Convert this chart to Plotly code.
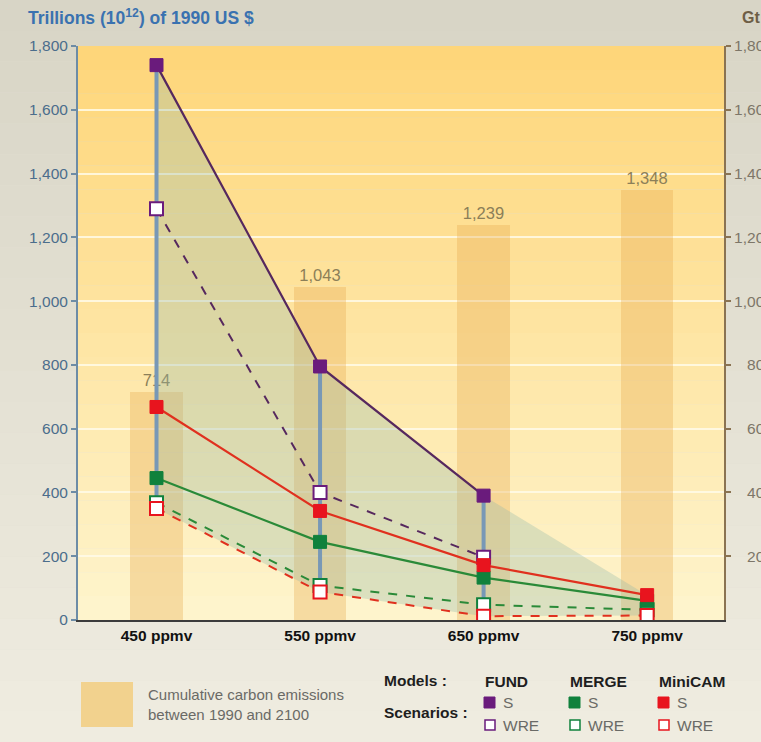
import plotly.graph_objects as go

# ---------------- data ----------------
categories = ["450 ppmv", "550 ppmv", "650 ppmv", "750 ppmv"]
cumulative_emissions = [714, 1043, 1239, 1348]
cumulative_labels = ["714", "1,043", "1,239", "1,348"]

fund_s = [1740, 795, 390, None]
fund_wre = [1290, 400, 197, None]
merge_s = [445, 245, 133, 60]
merge_wre = [368, 108, 48, 32]
minicam_s = [668, 342, 172, 78]
minicam_wre = [350, 88, 12, 14]

y_ticks = [0, 200, 400, 600, 800, 1000, 1200, 1400, 1600, 1800]
y_ticktext = ["0", "200", "400", "600", "800", "1,000", "1,200", "1,400", "1,600", "1,800"]
y2_ticks = [200, 400, 600, 800, 1000, 1200, 1400, 1600, 1800]
y2_ticktext = ["\u2007\u2008200", "\u2007\u2008400", "\u2007\u2008600", "\u2007\u2008800",
               "1,000", "1,200", "1,400", "1,600", "1,800"]

# ---------------- layout geometry ----------------
W, H = 761, 742
ML, MR, MT, MB = 78, 37, 46, 122
PW, PH = W - ML - MR, H - MT - MB


def px(xp):
    return (xp - ML) / PW


def py(yp):
    return (H - MB - yp) / PH


FONT = "Liberation Sans, Arial, sans-serif"
xi = list(range(len(categories)))

all_series = [fund_s, fund_wre, merge_s, merge_wre, minicam_s, minicam_wre]
env_max, env_min = [], []
for i in xi:
    vals = [s[i] for s in all_series if s[i] is not None]
    env_max.append(max(vals))
    env_min.append(min(vals))

fig = go.Figure()

# cumulative emission bars (Gt C, same scale as the left axis)
fig.add_trace(go.Bar(
    x=xi, y=cumulative_emissions, width=0.32,
    marker=dict(color="rgba(232,170,80,0.34)", line=dict(width=0)),
    text=cumulative_labels, textposition="outside", cliponaxis=False,
    textfont=dict(color="#8c7f58", size=16.5, family=FONT),
    hoverinfo="skip", showlegend=False))

# invisible trace that carries the right-hand axis
fig.add_trace(go.Scatter(x=xi, y=cumulative_emissions, yaxis="y2", mode="markers",
                         marker=dict(opacity=0), hoverinfo="skip", showlegend=False))

# shaded envelope between highest and lowest model results
fig.add_trace(go.Scatter(
    x=xi + xi[::-1], y=env_max + env_min[::-1], fill="toself",
    fillcolor="rgba(150,185,170,0.33)", line=dict(width=0),
    mode="lines", hoverinfo="skip", showlegend=False))

# vertical range lines
rx, ry = [], []
for i in xi:
    rx += [i, i, None]
    ry += [env_max[i], env_min[i], None]
fig.add_trace(go.Scatter(x=rx, y=ry, mode="lines",
                         line=dict(color="#7898b6", width=4),
                         hoverinfo="skip", showlegend=False))

models = [
    ("FUND", fund_s, fund_wre, "#6a1b7c", "#56285e"),
    ("MERGE", merge_s, merge_wre, "#10813c", "#2a8a38"),
    ("MiniCAM", minicam_s, minicam_wre, "#e8141e", "#e0301e"),
]

for name, s, wre, mcol, lcol in models:
    fig.add_trace(go.Scatter(
        x=xi, y=wre, mode="lines+markers", name=name + " WRE",
        line=dict(color=lcol, width=2, dash="dash"),
        marker=dict(symbol="square", size=13, color="white",
                    line=dict(color=mcol, width=2)),
        showlegend=False))
for name, s, wre, mcol, lcol in models:
    fig.add_trace(go.Scatter(
        x=xi, y=s, mode="lines+markers", name=name + " S",
        line=dict(color=lcol, width=2.2),
        marker=dict(symbol="square", size=13, color=mcol,
                    line=dict(color=mcol, width=1)),
        showlegend=False))

# ---------------- background gradients ----------------
shapes = []


def mix(c1, c2, t):
    return "rgb(%d,%d,%d)" % tuple(round(a + (b - a) * t) for a, b in zip(c1, c2))


N = 24
paper_top, paper_bot = (216, 213, 198), (239, 236, 224)
y_top, y_bot = py(0), py(H)
for k in range(N):
    y0 = y_top + (y_bot - y_top) * k / N
    y1 = y_top + (y_bot - y_top) * (k + 1) / N
    shapes.append(dict(type="rect", xref="paper", yref="paper",
                       x0=px(0), x1=px(W), y0=y1, y1=y0,
                       fillcolor=mix(paper_top, paper_bot, k / (N - 1)),
                       line=dict(width=0), layer="below"))
plot_top, plot_bot = (254, 214, 122), (254, 244, 204)
for k in range(N):
    shapes.append(dict(type="rect", xref="paper", yref="paper",
                       x0=0, x1=1, y0=1 - (k + 1) / N, y1=1 - k / N,
                       fillcolor=mix(plot_top, plot_bot, k / (N - 1)),
                       line=dict(width=0), layer="below"))

# legend swatches
shapes.append(dict(type="rect", xref="paper", yref="paper",
                   x0=px(81), x1=px(133), y0=py(727), y1=py(682),
                   fillcolor="rgb(242,210,142)", line=dict(width=0)))
leg_cols = [("FUND", 484, "#6a1b7c"), ("MERGE", 569, "#10813c"), ("MiniCAM", 658, "#e8141e")]
for name, x0, col in leg_cols:
    shapes.append(dict(type="rect", xref="paper", yref="paper",
                       x0=px(x0), x1=px(x0 + 11), y0=py(708), y1=py(697),
                       fillcolor=col, line=dict(color=col, width=1)))
    shapes.append(dict(type="rect", xref="paper", yref="paper",
                       x0=px(x0 + 1), x1=px(x0 + 11), y0=py(730), y1=py(720),
                       fillcolor="white", line=dict(color=col, width=1.5)))

annotations = []


def ann(text, x, y, size=13, color="#222", bold=False, anchor="left"):
    if bold:
        text = "<b>" + text + "</b>"
    annotations.append(dict(text=text, x=px(x), y=py(y), xref="paper", yref="paper",
                            xanchor=anchor, yanchor="middle", showarrow=False,
                            font=dict(size=size, color=color, family=FONT), align="left"))


ann("Trillions (10<sup>12</sup>) of 1990 US $", 26, 17, 17.5, "#3a72b0", True)
ann("Gt C", 740, 17, 16, "#6e5e46", True)
ann("Cumulative carbon emissions<br>between 1990 and 2100", 146, 704, 15, "#6a6a66")
ann("Models :", 382, 680, 15.5, "#1e1e1e", True)
ann("Scenarios :", 382, 713, 15.5, "#1e1e1e", True)
for name, x0, col in leg_cols:
    ann(name, x0 - 1, 681, 15.5, "#1e1e1e", True)
    ann("S", x0 + 17, 702, 15.5, "#6a6a66")
    ann("WRE", x0 + 17, 725, 15.5, "#6a6a66")

fig.update_layout(
    width=W, height=H,
    margin=dict(l=ML, r=MR, t=MT, b=MB, pad=0),
    paper_bgcolor="rgb(226,223,210)",
    plot_bgcolor="rgba(0,0,0,0)",
    showlegend=False,
    bargap=0,
    shapes=shapes,
    annotations=annotations,
    font=dict(family=FONT),
    hovermode=False,
    xaxis=dict(range=[-0.48, 3.47], tickvals=xi, ticktext=categories,
               showgrid=False, zeroline=False, showline=True,
               linecolor="#3c3c3c", linewidth=2, ticks="",
               tickfont=dict(size=15.5, color="#111", family=FONT, weight="bold"),
               automargin=False, fixedrange=True),
    yaxis=dict(range=[0, 1800], tickvals=y_ticks, ticktext=y_ticktext,
               showgrid=True, gridcolor="rgba(255,250,232,0.85)", gridwidth=1.5,
               zeroline=False, showline=True, linecolor="#6d8ca6", linewidth=2,
               ticks="outside", ticklen=5, tickcolor="#6d8ca6", tickwidth=1.5,
               tickfont=dict(size=15.5, color="#4b6d8c", family=FONT),
               automargin=False, fixedrange=True),
    yaxis2=dict(range=[0, 1800], overlaying="y", side="right",
                tickvals=y2_ticks, ticktext=y2_ticktext,
                showgrid=False, zeroline=False, showline=True,
                linecolor="#8a7352", linewidth=2, ticks="outside", ticklen=5,
                tickcolor="#8a7352", tickwidth=1.5,
                tickfont=dict(size=15.5, color="#7d7668", family=FONT),
                automargin=False, fixedrange=True),
)

fig.write_html("out.html", config={"displayModeBar": False},
               post_script="document.body.style.margin='0';")
